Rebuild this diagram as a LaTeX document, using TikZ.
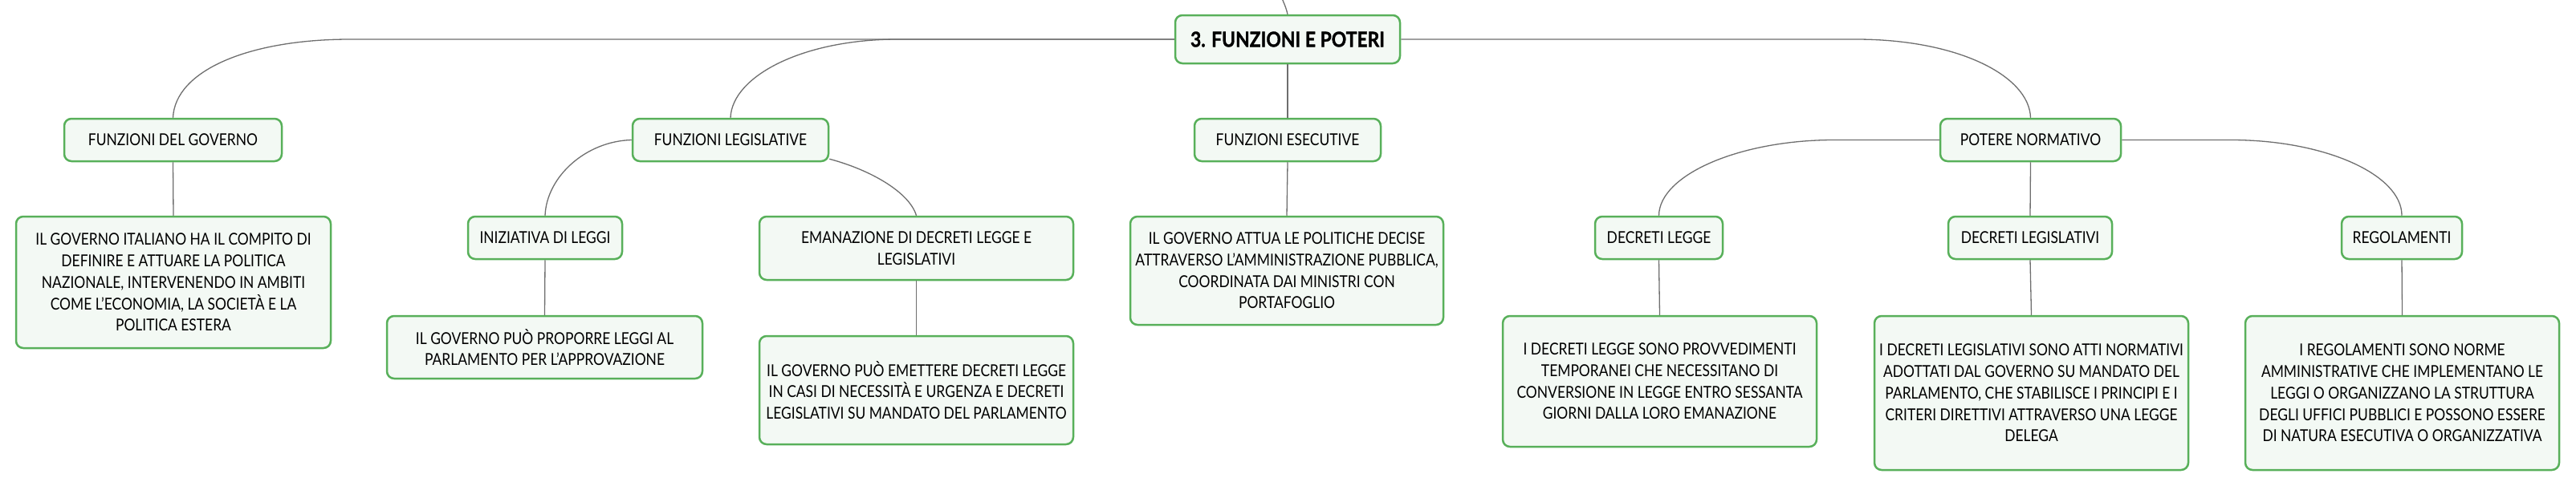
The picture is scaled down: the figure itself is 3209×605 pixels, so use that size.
\documentclass[tikz,border=0pt]{standalone}
\usepackage{fontspec}
\setmainfont{Lato}[FakeStretch=0.85]
\newfontfamily\rootfont{Lato}[FakeStretch=0.88, BoldFeatures={FakeBold=1.3}]
\definecolor{boxgreen}{RGB}{88,176,90}
\definecolor{boxfill}{RGB}{243,249,244}
\definecolor{linegray}{RGB}{110,110,110}
\tikzset{
  box/.style={draw=boxgreen, fill=boxfill, line width=2.5pt, rounded corners=9pt,
    align=center, inner sep=0pt, text=black,
    font=\fontsize{20.5}{26.7}\selectfont},
  rootbox/.style={box, font=\rootfont\fontsize{26}{30}\selectfont\bfseries},
  conn/.style={draw=linegray, line width=1.3pt},
}
\begin{document}
\begin{tikzpicture}[x=1pt,y=-1pt]
\useasboundingbox (0,0) rectangle (3209,605);
% nodes
\node[rootbox, minimum width=280, minimum height=60] (root) at (1604,49) {3. FUNZIONI E POTERI};
\node[box, minimum width=271, minimum height=53] (fg) at (215.5,174.5) {FUNZIONI DEL GOVERNO};
\node[box, minimum width=244, minimum height=53] (fl) at (910,174.5) {FUNZIONI LEGISLATIVE};
\node[box, minimum width=232, minimum height=53] (fe) at (1604,174.5) {FUNZIONI ESECUTIVE};
\node[box, minimum width=225, minimum height=53] (pn) at (2529.5,174.5) {POTERE NORMATIVO};
\node[box, minimum width=392, minimum height=164] (fgd) at (216,352) {IL GOVERNO ITALIANO HA IL COMPITO DI\\DEFINIRE E ATTUARE LA POLITICA\\NAZIONALE, INTERVENENDO IN AMBITI\\COME L'ECONOMIA, LA SOCIETÀ E LA\\POLITICA ESTERA};
\node[box, minimum width=192, minimum height=53] (il) at (679,296.5) {INIZIATIVA DI LEGGI};
\node[box, minimum width=393, minimum height=78] (ild) at (678.5,433) {IL GOVERNO PUÒ PROPORRE LEGGI AL\\PARLAMENTO PER L'APPROVAZIONE};
\node[box, minimum width=391, minimum height=79] (em) at (1141.5,309.5) {EMANAZIONE DI DECRETI LEGGE E\\LEGISLATIVI};
\node[box, minimum width=391, minimum height=135] (emd) at (1141.5,486.5) {IL GOVERNO PUÒ EMETTERE DECRETI LEGGE\\IN CASI DI NECESSITÀ E URGENZA E DECRETI\\LEGISLATIVI SU MANDATO DEL PARLAMENTO};
\node[box, minimum width=390, minimum height=135] (fed) at (1603,337.5) {IL GOVERNO ATTUA LE POLITICHE DECISE\\ATTRAVERSO L'AMMINISTRAZIONE PUBBLICA,\\COORDINATA DAI MINISTRI CON\\PORTAFOGLIO};
\node[box, minimum width=159, minimum height=53] (dl) at (2066.5,296.5) {DECRETI LEGGE};
\node[box, minimum width=204, minimum height=53] (dlg) at (2529,296.5) {DECRETI LEGISLATIVI};
\node[box, minimum width=150, minimum height=53] (reg) at (2992,296.5) {REGOLAMENTI};
\node[box, minimum width=391, minimum height=163] (dld) at (2067.5,475.5) {I DECRETI LEGGE SONO PROVVEDIMENTI\\TEMPORANEI CHE NECESSITANO DI\\CONVERSIONE IN LEGGE ENTRO SESSANTA\\GIORNI DALLA LORO EMANAZIONE};
\node[box, minimum width=391, minimum height=192] (dlgd) at (2530.5,490) {I DECRETI LEGISLATIVI SONO ATTI NORMATIVI\\ADOTTATI DAL GOVERNO SU MANDATO DEL\\PARLAMENTO, CHE STABILISCE I PRINCIPI E I\\CRITERI DIRETTIVI ATTRAVERSO UNA LEGGE\\DELEGA};
\node[box, minimum width=391, minimum height=192] (regd) at (2992.5,490) {I REGOLAMENTI SONO NORME\\AMMINISTRATIVE CHE IMPLEMENTANO LE\\LEGGI O ORGANIZZANO LA STRUTTURA\\DEGLI UFFICI PUBBLICI E POSSONO ESSERE\\DI NATURA ESECUTIVA O ORGANIZZATIVA};
\coordinate (top) at (1597,-2);
% connectors
\draw[conn] (root.north) .. controls (1602,10) .. (top);
\draw[conn] (root.west) -- (436,49) .. controls (310,49) and (218,88) .. (fg.north);
\draw[conn] (root.west) -- (1118,49) .. controls (1000,49) and (912,95) .. (fl.north);
\draw[conn] (root.south) -- (fe.north);
\draw[conn] (root.east) -- (2312,49) .. controls (2440,49) and (2528,95) .. (pn.north);
\draw[conn] (fg.south) -- (fgd.north);
\draw[conn] (fl.west) .. controls (730,176) and (681,220) .. (il.north);
\draw[conn] (fl.south east) ++(0,-4) .. controls (1085,212) and (1133,240) .. (em.north);
\draw[conn] (il.south) -- (ild.north);
\draw[conn] (em.south) -- (emd.north);
\draw[conn] (fe.south) -- (fed.north);
\draw[conn] (pn.west) -- (2285,174.5) .. controls (2167,174.5) and (2067,218) .. (dl.north);
\draw[conn] (pn.east) -- (2779,174.5) .. controls (2897,174.5) and (2992,218) .. (reg.north);
\draw[conn] (pn.south) -- (dlg.north);
\draw[conn] (dl.south) -- (dld.north);
\draw[conn] (dlg.south) -- (dlgd.north);
\draw[conn] (reg.south) -- (regd.north);
\end{tikzpicture}
\end{document}
